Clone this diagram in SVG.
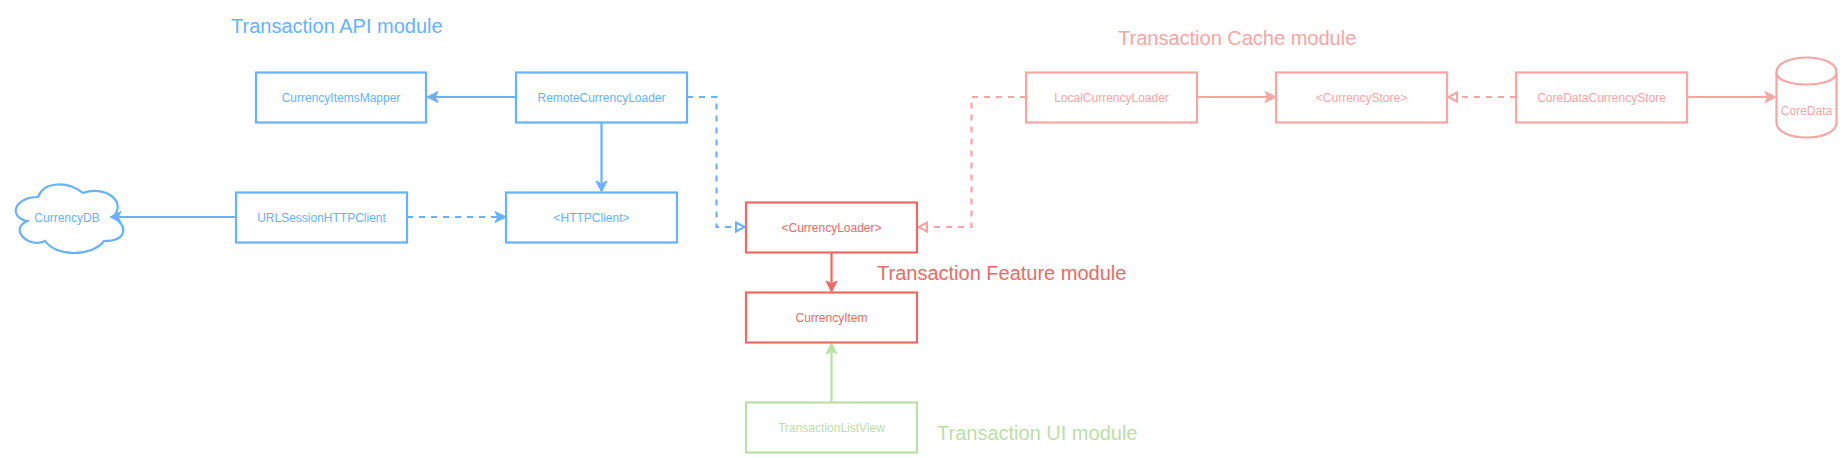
<svg xmlns="http://www.w3.org/2000/svg" width="1842" height="458" viewBox="0 0 1842 458">
<style>
text{font-family:"Liberation Sans",Arial,sans-serif;text-anchor:middle;dominant-baseline:central}
.n{font-size:12px}
.t{font-size:20px;text-anchor:start;dominant-baseline:auto}
.s{fill:#fff;stroke-width:2.2}
.c{fill:none;stroke-width:2.2}
.d{stroke-dasharray:6 6}
.blue{stroke:#66b2ff}.red{stroke:#ea6b66}.pink{stroke:#f8a5a3}.green{stroke:#b9e0a5}
.tb{fill:#66b2ff}.tr{fill:#ea6b66}.tp{fill:#f8a5a3}.tg{fill:#b9e0a5}
</style>
<defs>
<marker id="ab" markerUnits="userSpaceOnUse" markerWidth="14" markerHeight="14" viewBox="0 0 14 14" refX="3" refY="7" orient="auto"><path d="M1 1.5 L12 7 L1 12.5 L3.8 7 Z" fill="#66b2ff" stroke="#66b2ff"/></marker>
<marker id="ar" markerUnits="userSpaceOnUse" markerWidth="14" markerHeight="14" viewBox="0 0 14 14" refX="3" refY="7" orient="auto"><path d="M1 1.5 L12 7 L1 12.5 L3.8 7 Z" fill="#ea6b66" stroke="#ea6b66"/></marker>
<marker id="ap" markerUnits="userSpaceOnUse" markerWidth="14" markerHeight="14" viewBox="0 0 14 14" refX="3" refY="7" orient="auto"><path d="M1 1.5 L12 7 L1 12.5 L3.8 7 Z" fill="#f8a5a3" stroke="#f8a5a3"/></marker>
<marker id="ag" markerUnits="userSpaceOnUse" markerWidth="14" markerHeight="14" viewBox="0 0 14 14" refX="3" refY="7" orient="auto"><path d="M1 1.5 L12 7 L1 12.5 L3.8 7 Z" fill="#b9e0a5" stroke="#b9e0a5"/></marker>
<marker id="hb" markerUnits="userSpaceOnUse" markerWidth="14" markerHeight="14" viewBox="0 0 14 14" refX="2" refY="7" orient="auto"><path d="M2 2.5 L10.5 7 L2 11.5 Z" fill="#fff" stroke="#66b2ff" stroke-width="2"/></marker>
<marker id="hp" markerUnits="userSpaceOnUse" markerWidth="14" markerHeight="14" viewBox="0 0 14 14" refX="2" refY="7" orient="auto"><path d="M2 2.500 L10.500 7 L2 11.500 Z" fill="#fff" stroke="#f8a5a3" stroke-width="2"/></marker>
</defs>
<g id="CurrencyDB"><path class="s blue" d="M38 197C14 197 8 217 27.200 221C8 229.800 29.600 249 45.200 241C56 257 92 257 104 241C128 241 128 225 113 217C128 201 104 185 83 193C68 181 44 181 38 197Z"/><text class="n tb" x="67" y="218">CurrencyDB</text></g>
<g id="connectors">
<path class="c blue" d="M516 97H436" marker-end="url(#ab)"/>
<path class="c blue" d="M601.500 122.500V183" marker-end="url(#ab)"/>
<path class="c blue" d="M236 217H119" marker-end="url(#ab)"/>
<path class="c blue d" d="M407 217H497" marker-end="url(#ab)"/>
<path class="c blue d" d="M687 97H716.500V227H736" marker-end="url(#hb)"/>
<path class="c pink d" d="M1026 97H971.500V227H927" marker-end="url(#hp)"/>
<path class="c red" d="M831.500 253V283" marker-end="url(#ar)"/>
<path class="c green" d="M831.500 402V352" marker-end="url(#ag)"/>
<path class="c pink" d="M1197 97H1267" marker-end="url(#ap)"/>
<path class="c pink d" d="M1516 97H1457" marker-end="url(#hp)"/>
<path class="c pink" d="M1687 97H1767" marker-end="url(#ap)"/>
</g>
<g id="title-api"><text class="t tb" x="231" y="33">Transaction API module</text></g>
<g id="title-cache"><text class="t tp" x="1118" y="45">Transaction Cache module</text></g>
<g id="title-feature"><text class="t tr" x="877" y="280">Transaction Feature module</text></g>
<g id="title-ui"><text class="t tg" x="937" y="440">Transaction UI module</text></g>
<g id="CurrencyItemsMapper"><rect class="s blue" x="256" y="72.500" width="170" height="50"/><text class="n tb" x="341" y="98">CurrencyItemsMapper</text></g>
<g id="RemoteCurrencyLoader"><rect class="s blue" x="516" y="72.500" width="171" height="50"/><text class="n tb" x="601.500" y="98">RemoteCurrencyLoader</text></g>
<g id="URLSessionHTTPClient"><rect class="s blue" x="236" y="192.500" width="171" height="50"/><text class="n tb" x="321.500" y="218">URLSessionHTTPClient</text></g>
<g id="HTTPClient"><rect class="s blue" x="506" y="192.500" width="171" height="50"/><text class="n tb" x="591.500" y="218">&lt;HTTPClient&gt;</text></g>
<g id="CurrencyLoader"><rect class="s red" x="746" y="202.500" width="171" height="50"/><text class="n tr" x="831.500" y="228">&lt;CurrencyLoader&gt;</text></g>
<g id="CurrencyItem"><rect class="s red" x="746" y="292.500" width="171" height="50"/><text class="n tr" x="831.500" y="318">CurrencyItem</text></g>
<g id="TransactionListView"><rect class="s green" x="746" y="402.500" width="171" height="50"/><text class="n tg" x="831.500" y="428">TransactionListView</text></g>
<g id="LocalCurrencyLoader"><rect class="s pink" x="1026" y="72.500" width="171" height="50"/><text class="n tp" x="1111.500" y="98">LocalCurrencyLoader</text></g>
<g id="CurrencyStore"><rect class="s pink" x="1276" y="72.500" width="171" height="50"/><text class="n tp" x="1361.500" y="98">&lt;CurrencyStore&gt;</text></g>
<g id="CoreDataCurrencyStore"><rect class="s pink" x="1516" y="72.500" width="171" height="50"/><text class="n tp" x="1601.500" y="98">CoreDataCurrencyStore</text></g>
<g id="CoreData"><path class="s pink" d="M1776.500 72.500C1776.500 52.500 1836.500 52.500 1836.500 72.500V122.500C1836.500 142.500 1776.500 142.500 1776.500 122.500Z"/><path class="c pink" d="M1776.500 72.500C1776.500 88.500 1836.500 88.500 1836.500 72.500"/><text class="n tp" x="1806.500" y="111">CoreData</text></g>
</svg>
